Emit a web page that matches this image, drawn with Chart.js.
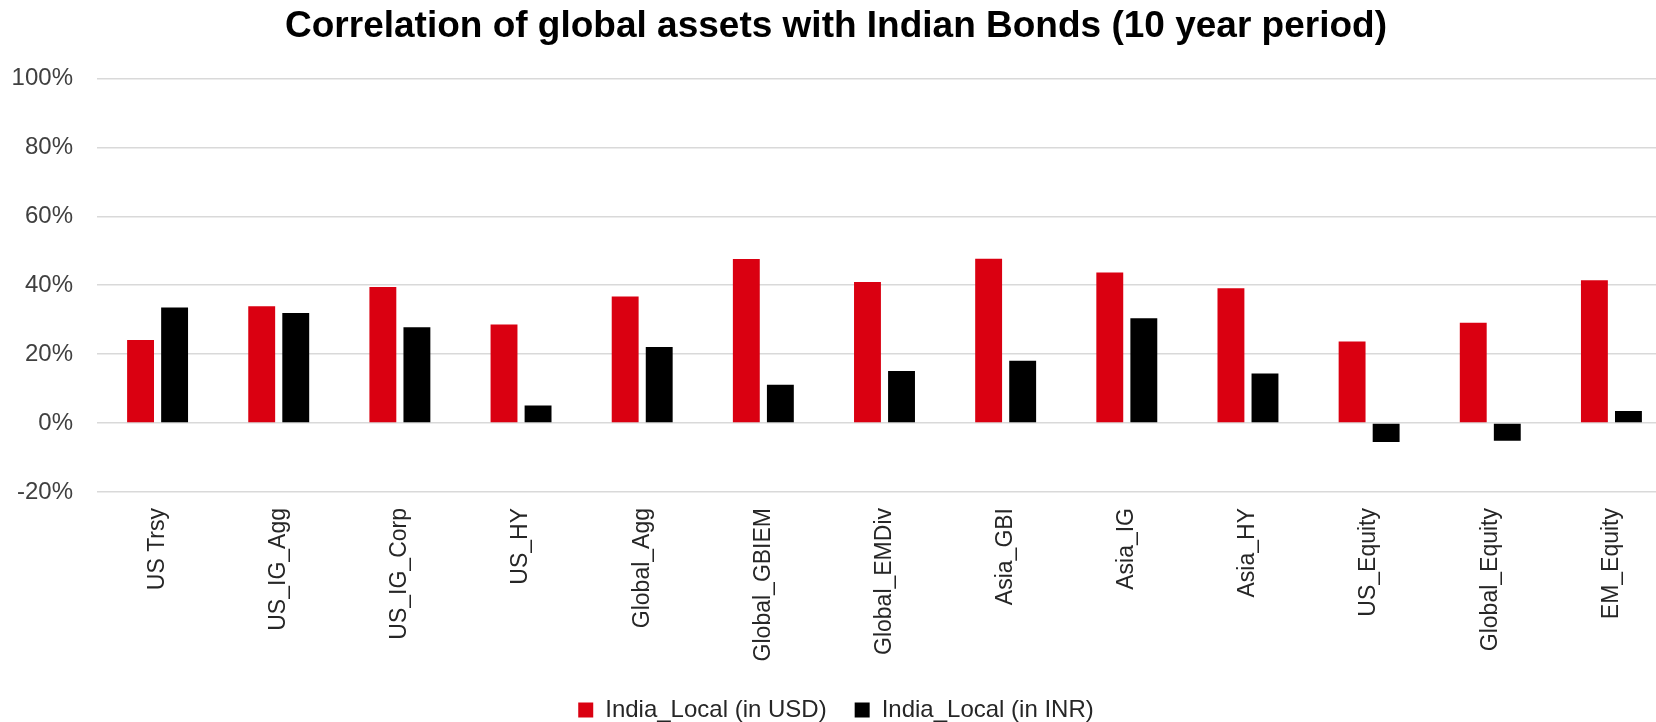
<!DOCTYPE html>
<html>
<head>
<meta charset="utf-8">
<title>Correlation of global assets with Indian Bonds</title>
<script src="https://cdn.jsdelivr.net/npm/chart.js@4.4.1/dist/chart.umd.min.js"></script>
<style>
  html, body { margin: 0; padding: 0; background: #fff; overflow: hidden; }
  #wrap { width: 1696px; height: 722px; }
</style>
</head>
<body>
<div id="wrap"><canvas id="chart1" width="1696" height="722"></canvas></div>
<script>
// asset classes on the x axis
const assets = ["US Trsy", "US_IG_Agg", "US_IG_Corp", "US_HY", "Global_Agg", "Global_GBIEM",
  "Global_EMDiv", "Asia_GBI", "Asia_IG", "Asia_HY", "US_Equity", "Global_Equity", "EM_Equity"];

// correlation in percent
const corrUSD = [24.1, 33.9, 39.5, 28.6, 36.7, 47.6, 40.9, 47.7, 43.7, 39.1, 23.7, 29.1, 41.4];
const corrINR = [33.5, 31.9, 27.8, 5.1, 22.1, 11.1, 15.1, 18.1, 30.4, 14.4, -5.5, -5.1, 3.5];

const seriesNames = ["India_Local (in USD)", "India_Local (in INR)"];
const yMin = -20;
const yMax = 100;
const yStep = 20;

document.addEventListener("DOMContentLoaded", function () {
  const ctx = document.getElementById("chart1").getContext("2d");
  const font = "'Liberation Sans', Arial, sans-serif";

  new Chart(ctx, {
    type: "bar",
    data: {
      labels: assets,
      datasets: [
        { label: seriesNames[0], data: corrUSD, backgroundColor: "#da0011" },
        { label: seriesNames[1], data: corrINR, backgroundColor: "#000000" }
      ]
    },
    options: {
      responsive: false,
      animation: false,
      devicePixelRatio: 1,
      categoryPercentage: 0.562,
      barPercentage: 0.79,
      layout: { padding: { left: 0, right: 24, top: 0, bottom: -10 } },
      plugins: {
        title: {
          display: true,
          text: "Correlation of global assets with Indian Bonds (10 year period)",
          color: "#000",
          font: { family: font, size: 37, weight: "bold" },
          padding: { top: 5, bottom: 29 }
        },
        legend: {
          position: "bottom",
          labels: {
            boxWidth: 15,
            boxHeight: 15,
            padding: 28,
            color: "#262626",
            font: { family: font, size: 24 }
          }
        },
        tooltip: { enabled: false }
      },
      scales: {
        x: {
          grid: { display: false, drawTicks: false },
          border: { display: false },
          ticks: {
            autoSkip: false,
            minRotation: 90,
            maxRotation: 90,
            padding: 16,
            color: "#262626",
            font: { family: font, size: 23 }
          },
          // tall enough for the longest rotated label
          afterFit: function (scale) { scale.height = 178; }
        },
        y: {
          min: yMin,
          max: yMax,
          grid: { color: "#d9d9d9", lineWidth: 1.5, drawTicks: false },
          border: { display: false },
          ticks: {
            stepSize: yStep,
            padding: 24,
            color: "#404040",
            font: { family: font, size: 24 },
            callback: v => v + "%"
          },
          afterFit: function (scale) { scale.width = 97; }
        }
      }
    }
  });
});
</script>
</body>
</html>
